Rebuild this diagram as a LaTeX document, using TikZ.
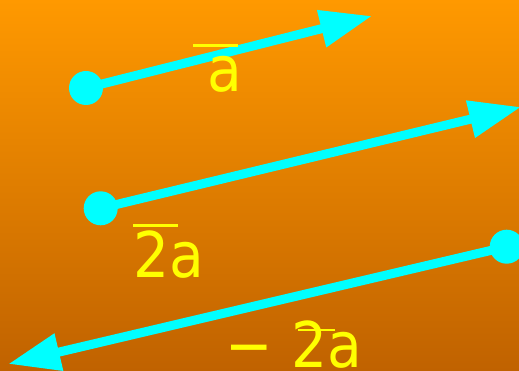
\documentclass[tikz,border=0pt]{standalone}
\usepackage{fontspec}
\setmainfont{DejaVu Sans Condensed}
\usetikzlibrary{arrows.meta, positioning}
\definecolor{bgtop}{RGB}{255,153,0}
\definecolor{bgmid}{RGB}{233,139,0}
\definecolor{bgbot}{RGB}{192,98,0}
\definecolor{vcyan}{RGB}{0,255,255}
\definecolor{vyellow}{RGB}{255,255,0}
\tikzset{
  vdot/.style={circle, fill=vcyan, inner sep=0pt, minimum size=34pt},
  vec/.style={-{Triangle[length=52pt, width=36pt]}, line width=9pt, color=vcyan},
  vlabel/.style={anchor=base, inner sep=0pt, text depth=0pt, text=vyellow,
    font=\fontsize{63pt}{63pt}\selectfont},
  vbar/.style={line width=2.5pt, color=vyellow}
}
\begin{document}
\begin{tikzpicture}[x=1pt, y=-1pt]
  % background
  \shade[top color=bgtop, middle color=bgmid, bottom color=bgbot] (0,0) rectangle (519,371);
  \useasboundingbox (0,0) rectangle (519,371);
  \clip (0,0) rectangle (519,371);
  % vector a
  \node[vdot] (dotA) at (86,88) {};
  \coordinate (tipA) at (372,16);
  \draw[vec] (dotA.center) -- (tipA);
  \node[vlabel] (lblA) at (225,92) {a};
  \draw[vbar] (193,45.7) -- (238,45.7);
  % vector 2a
  \node[vdot] (dotB) at (100.7,208.3) {};
  \coordinate (tipB) at (521,107);
  \draw[vec] (dotB.center) -- (tipB);
  \node[vlabel] (lblB) at (168.5,277) {2a};
  \draw[vbar] (133,225.7) -- (178,225.7);
  % vector -2a
  \node[vdot] (dotC) at (506.7,246.7) {};
  \coordinate (tipC) at (8.3,364);
  \draw[vec] (dotC.center) -- (tipC);
  \node[vlabel] (lblC) at (294,367) {− 2a};
  \draw[vbar] (298,330) -- (335,330);
\end{tikzpicture}
\end{document}
